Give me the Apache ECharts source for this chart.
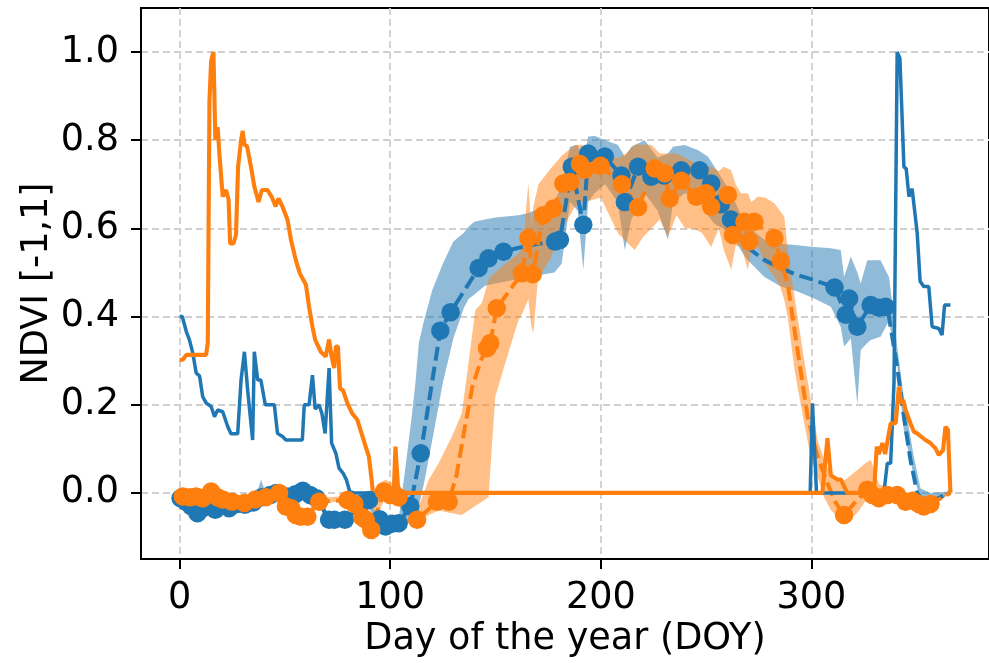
<!DOCTYPE html>
<html>
<head>
<meta charset="utf-8">
<script src="https://cdn.jsdelivr.net/npm/echarts@6/dist/echarts.min.js"></script>
<style>
html,body{margin:0;padding:0;background:#fff;}
#chart{width:989px;height:663px;}
</style>
</head>
<body>
<div id="chart"></div>
<script>
// ---------- data (day of year, NDVI) ----------
const X_TICKS = [0, 100, 200, 300];
const Y_TICKS = [0, 0.2, 0.4, 0.6, 0.8, 1.0];

// raw NDVI, pixel 1 (blue)
const BLUE_RAW = [[0,0.40],[1.3,0.40],[3.2,0.366],[4.7,0.347],[6.3,0.317],[7.9,0.272],[9.5,0.265],[11,0.218],[12.6,0.204],[15,0.196],[16.6,0.173],[18.1,0.188],[20.5,0.184],[22.9,0.150],[24.4,0.134],[27.6,0.134],[29.2,0.256],[30.8,0.32],[32.4,0.23],[34.7,0.12],[35.5,0.32],[37.1,0.256],[38.6,0.256],[40.7,0.2],[45,0.2],[46.5,0.135],[48.9,0.128],[50.5,0.12],[58.3,0.12],[59.2,0.2],[61.5,0.2],[63.1,0.267],[64.4,0.19],[66.2,0.2],[67.6,0.18],[69.1,0.135],[71,0.283],[72.2,0.113],[74.2,0.09],[75.7,0.056],[77.6,0.045],[79.2,0.03],[80.8,0.003],[82.8,0],[299.4,0],[300.5,0.203],[302.4,0],[334.4,0],[336,0.067],[337.6,0.067],[339.2,0.25],[340.7,1.0],[342,0.986],[343.9,0.74],[345,0.735],[346.3,0.672],[347.8,0.69],[350.2,0.59],[351.6,0.48],[353.3,0.468],[355.7,0.468],[357.3,0.377],[360.5,0.373],[362,0.358],[363.2,0.426],[366,0.426]];

// raw NDVI, pixel 2 (orange)
const ORANGE_RAW = [[0,0.302],[1.5,0.302],[3.2,0.313],[12.6,0.313],[13.4,0.34],[14.2,0.89],[15,0.98],[16.1,1.0],[17,0.80],[18.1,0.83],[18.9,0.77],[20.5,0.672],[22.1,0.687],[23.3,0.665],[24,0.566],[25.6,0.566],[26.8,0.585],[27.8,0.74],[29.2,0.80],[30,0.821],[30.8,0.79],[32,0.787],[33.9,0.74],[35.5,0.695],[37.5,0.66],[39.1,0.687],[41.8,0.687],[43.9,0.67],[45.6,0.65],[47,0.668],[48.9,0.649],[51.3,0.619],[52.9,0.574],[55.2,0.528],[57.1,0.498],[60,0.472],[61.5,0.422],[63.1,0.377],[64.4,0.347],[67.1,0.32],[69.4,0.309],[71,0.348],[72.2,0.309],[73.4,0.283],[74.2,0.332],[75.2,0.332],[76.2,0.237],[77.6,0.233],[79.7,0.203],[82,0.18],[84.4,0.166],[87.1,0.124],[89.1,0.094],[89.9,0.082],[91.2,0.03],[91.8,0],[101.7,0],[102.5,0.105],[103.7,0.014],[105.5,0],[305.2,0],[307.6,0.124],[309.2,0.04],[312.4,0.03],[314,0.03],[317,0],[329.7,0],[331,0.105],[332,0.088],[333.7,0.113],[335,0.088],[337.6,0.158],[340,0.158],[341.5,0.241],[342.6,0.203],[343.6,0.21],[344.7,0.188],[347,0.158],[348.6,0.139],[350.2,0.135],[354.1,0.12],[356.5,0.113],[358.9,0.101],[360.5,0.086],[362.5,0.097],[363.6,0.15],[364.8,0.143],[366,0]];

// smoothed NDVI, pixel 1: [day, value, observed (1 = marker)]
const BLUE_SMOOTH = [[0.5,-0.012,1],[3,-0.02,1],[5.5,-0.03,1],[8.5,-0.046,1],[11,-0.035,1],[14,-0.03,1],[17,-0.038,1],[20,-0.028,1],[23.5,-0.035,1],[27,-0.025,1],[31,-0.027,1],[35,-0.022,1],[39,-0.01,1],[43,-0.005,1],[46,0.0,1],[51,-0.008,1],[55,-0.003,1],[58.5,0.005,1],[62,-0.005,1],[65,-0.012,1],[71,-0.061,1],[73.5,-0.061,1],[78.5,-0.061,1],[86,-0.025,1],[90,-0.016,1],[95,-0.06,1],[97.8,-0.076,1],[101,-0.07,1],[104,-0.069,1],[109.6,-0.03,1],[114.5,0.09,1],[123.8,0.368,1],[128.7,0.41,1],[142,0.51,1],[146.7,0.532,1],[153.8,0.547,1],[160,0.555,0],[170,0.565,0],[178.3,0.57,1],[180.6,0.574,1],[186.2,0.74,1],[191.7,0.608,1],[194,0.77,1],[201.9,0.763,1],[209.8,0.72,1],[211.4,0.66,1],[217.7,0.74,1],[224,0.717,1],[230,0.72,1],[238.2,0.732,1],[246.9,0.732,1],[252.4,0.702,1],[257,0.655,1],[261.8,0.62,1],[266.6,0.574,0],[271.3,0.551,0],[277.7,0.528,0],[285.5,0.51,0],[293.4,0.494,0],[301.3,0.483,0],[311,0.466,1],[316.3,0.404,1],[317.9,0.441,1],[321.8,0.377,1],[328.1,0.426,1],[332,0.42,1],[335.2,0.422,1],[336.8,0.40,0],[340.7,0.286,0],[343.9,0.173,0],[347,0.075,0],[350.2,0.0,0],[353.3,-0.02,0],[356.5,-0.02,0],[361,-0.01,0],[366,0.003,0]];

// smoothed NDVI, pixel 2
const ORANGE_SMOOTH = [[1.6,-0.008,1],[5,-0.01,1],[7.9,-0.008,1],[11,-0.012,1],[15,0.003,1],[18,-0.01,1],[20.5,-0.015,1],[25,-0.02,1],[30.8,-0.023,1],[36,-0.015,1],[41,-0.01,1],[47.3,0.0,1],[50.5,-0.031,1],[53,-0.035,1],[55.2,-0.05,1],[57.5,-0.054,1],[60.7,-0.054,1],[66.3,-0.02,1],[79.7,-0.016,1],[83,-0.025,1],[86.7,-0.055,1],[88.4,-0.061,1],[91,-0.084,1],[97,0.003,1],[100,-0.005,1],[104,-0.01,1],[112.8,-0.061,1],[122.2,-0.02,1],[127.8,-0.02,1],[131.5,0.04,0],[135.5,0.15,0],[139,0.24,0],[143,0.3,0],[146,0.328,1],[147.5,0.34,1],[150.6,0.419,1],[162.5,0.498,1],[165.6,0.578,1],[167.7,0.496,1],[172.7,0.63,1],[177.5,0.645,1],[182.2,0.702,1],[185.4,0.705,1],[190.1,0.746,1],[192.4,0.733,1],[199.9,0.742,1],[210,0.7,1],[217.7,0.648,1],[225.6,0.736,1],[230.4,0.725,1],[232.7,0.668,1],[238.2,0.708,1],[245.3,0.672,1],[250,0.68,1],[252.4,0.649,1],[260.3,0.676,1],[262.7,0.585,1],[268.2,0.615,1],[270.5,0.57,1],[272.9,0.615,1],[282.4,0.578,1],[285.5,0.526,1],[288.7,0.475,0],[293.4,0.324,0],[298.2,0.173,0],[302.9,0.082,0],[307.6,0.022,0],[311.6,-0.023,0],[315.5,-0.05,1],[321,-0.02,0],[326.5,0.007,1],[329,-0.005,1],[332,-0.012,1],[336,-0.005,1],[340.7,-0.005,1],[344.7,-0.02,1],[348,-0.018,1],[351,-0.025,1],[353.3,-0.031,1],[356.5,-0.025,1],[366,0.0,0]];

// uncertainty bands: [day, lower, upper]
const BLUE_BAND = [[0,-0.02,-0.005],[10,-0.05,-0.035],[20,-0.035,-0.02],[30,-0.032,-0.018],[36,-0.025,-0.01],[38.7,-0.02,0.03],[41,-0.015,0.0],[50,-0.012,0.0],[58,-0.002,0.01],[65,-0.02,-0.005],[72,-0.065,-0.055],[80,-0.065,-0.05],[88,-0.025,-0.01],[97,-0.08,-0.065],[104,-0.075,-0.06],[107.3,-0.072,0.06],[110.4,-0.065,0.18],[112,-0.05,0.25],[113.6,-0.03,0.34],[116,0.02,0.39],[120,0.12,0.46],[125,0.25,0.52],[130,0.35,0.57],[135,0.42,0.59],[137.2,0.44,0.604],[140,0.45,0.615],[145,0.47,0.62],[150,0.475,0.625],[160.9,0.485,0.63],[165.7,0.49,0.635],[178,0.5,0.66],[181.4,0.52,0.698],[185.4,0.66,0.785],[189,0.64,0.79],[191.7,0.506,0.75],[194,0.66,0.808],[197,0.68,0.81],[202,0.70,0.80],[208,0.66,0.79],[211.4,0.551,0.763],[214.5,0.62,0.785],[220.8,0.68,0.80],[227,0.64,0.76],[231.9,0.574,0.77],[234.3,0.66,0.785],[239.8,0.68,0.789],[246,0.67,0.778],[250.8,0.63,0.763],[254,0.61,0.74],[258,0.60,0.71],[261.9,0.589,0.68],[266.6,0.55,0.63],[269.8,0.528,0.604],[277.7,0.49,0.574],[285.5,0.468,0.565],[293.4,0.457,0.562],[301.3,0.441,0.558],[309.2,0.422,0.555],[313.9,0.377,0.551],[315.5,0.332,0.49],[318.7,0.35,0.536],[321.8,0.2,0.50],[323.4,0.324,0.475],[326.5,0.34,0.528],[328.1,0.347,0.528],[332.8,0.354,0.528],[336.8,0.39,0.49],[339.2,0.324,0.40],[340.7,0.29,0.332],[343.9,0.14,0.215],[348.6,0.037,0.082],[351.8,-0.016,0.01],[356.5,-0.031,0.0],[366,0.0,0.003]];

const ORANGE_BAND = [[0,-0.015,0.0],[10,-0.018,-0.002],[20,-0.022,-0.008],[30,-0.03,-0.015],[40,-0.018,-0.005],[47,-0.008,0.005],[55,-0.055,-0.04],[60,-0.058,-0.045],[66,-0.025,-0.012],[75,-0.02,-0.008],[80,-0.022,-0.01],[86,-0.06,-0.045],[91,-0.085,-0.07],[94,-0.05,0.02],[97.8,-0.01,0.03],[102,-0.02,0.02],[106,-0.04,0.0],[112.8,-0.065,-0.04],[118.3,-0.05,0.03],[123,-0.04,0.067],[129.3,-0.046,0.128],[134,-0.05,0.18],[137.2,-0.04,0.294],[140.4,-0.03,0.415],[143.5,-0.02,0.43],[146.7,-0.01,0.483],[147.5,0.05,0.49],[149.9,0.218,0.5],[154.6,0.294,0.52],[160.9,0.392,0.543],[163,0.41,0.56],[165.6,0.44,0.702],[167,0.38,0.6],[168,0.362,0.65],[170.4,0.5,0.7],[172,0.5,0.71],[176,0.53,0.735],[179.8,0.58,0.755],[181.4,0.596,0.765],[187.7,0.649,0.789],[190.8,0.66,0.79],[195.6,0.664,0.78],[200,0.67,0.775],[204,0.63,0.765],[208.2,0.589,0.759],[212,0.57,0.77],[216.1,0.551,0.79],[220,0.58,0.79],[224,0.6,0.79],[228,0.62,0.77],[231.9,0.581,0.77],[236,0.63,0.77],[240,0.6,0.76],[244,0.6,0.75],[248,0.59,0.74],[252.4,0.558,0.74],[256,0.6,0.73],[258.5,0.55,0.74],[261.9,0.506,0.732],[264,0.56,0.7],[266.6,0.56,0.68],[269.8,0.506,0.68],[271.5,0.55,0.66],[274.5,0.56,0.672],[278,0.52,0.67],[282.4,0.49,0.657],[285,0.47,0.64],[287.1,0.438,0.627],[288.7,0.4,0.551],[291.8,0.286,0.45],[293.4,0.24,0.4],[296.6,0.158,0.3],[299.7,0.08,0.211],[302.9,0.037,0.12],[306,-0.01,0.075],[309.2,-0.039,0.04],[313.9,-0.061,0.022],[318.7,-0.058,0.04],[321.8,-0.045,0.052],[325,-0.023,0.065],[328.1,-0.01,0.075],[332,-0.02,0.02],[340,-0.02,0.005],[350,-0.035,-0.01],[356.5,-0.035,-0.015],[366,0,0.003]];

// ---------- styles ----------
const BLUE = '#1f77b4', ORANGE = '#ff7f0e';
const FONT = 'DejaVu Sans';
const FS = 36.6;

function bandSeries(band, color) {
  return {
    type: 'custom',
    coordinateSystem: 'cartesian2d',
    data: [[band[0][0], band[0][1]]],
    clip: true,
    silent: true,
    renderItem: function (params, api) {
      const pts = [];
      for (let i = 0; i < band.length; i++) pts.push(api.coord([band[i][0], band[i][2]]));
      for (let i = band.length - 1; i >= 0; i--) pts.push(api.coord([band[i][0], band[i][1]]));
      return { type: 'polygon', shape: { points: pts }, style: { fill: color, opacity: 0.5 } };
    }
  };
}
function smoothSeries(arr, color) {
  return {
    type: 'line',
    data: arr.map(r => ({ value: [r[0], r[1]], symbol: r[2] ? 'circle' : 'none' })),
    symbolSize: 18.5,
    showAllSymbol: true,
    itemStyle: { color: color },
    lineStyle: { color: color, width: 4, type: [14, 6] },
    clip: true,
    silent: true
  };
}
function rawSeries(arr, color, w) {
  return {
    type: 'line',
    data: arr,
    showSymbol: false,
    symbol: 'none',
    lineStyle: { color: color, width: w },
    clip: true,
    silent: true
  };
}

const gridLine = { show: true, lineStyle: { color: '#cfcfcf', width: 1.8, type: [7, 4] } };

const chart = echarts.init(document.getElementById('chart'), null, { renderer: 'canvas' });
chart.setOption({
  animation: false,
  backgroundColor: '#fff',
  textStyle: { fontFamily: FONT },
  grid: { left: 141, right: -3, top: 8, bottom: 104, show: true, borderColor: '#000', borderWidth: 2, backgroundColor: 'transparent' },
  xAxis: {
    type: 'value', min: -18.3, max: 384.3,
    name: 'Day of the year (DOY)', nameLocation: 'middle', nameGap: 62, nameMoveOverlap: false,
    nameTextStyle: { fontFamily: FONT, fontSize: FS, color: '#000' },
    axisLine: { show: true, onZero: false, lineStyle: { color: '#000', width: 2 } },
    axisTick: { show: true, customValues: X_TICKS, length: 10, lineStyle: { color: '#000', width: 2 } },
    axisLabel: { customValues: X_TICKS, margin: 21, fontFamily: FONT, fontSize: FS, color: '#000' },
    splitLine: gridLine
  },
  yAxis: {
    type: 'value', min: -0.15, max: 1.1,
    name: 'NDVI [-1,1]', nameLocation: 'middle', nameGap: 85, nameMoveOverlap: false,
    nameTextStyle: { fontFamily: FONT, fontSize: FS, color: '#000' },
    axisLine: { show: true, onZero: false, lineStyle: { color: '#000', width: 2 } },
    axisTick: { show: true, customValues: Y_TICKS, length: 10, lineStyle: { color: '#000', width: 2 } },
    axisLabel: { customValues: Y_TICKS, margin: 22, fontFamily: FONT, fontSize: FS, color: '#000',
                 formatter: v => v.toFixed(1) },
    splitLine: gridLine
  },
  series: [
    bandSeries(BLUE_BAND, BLUE),
    smoothSeries(BLUE_SMOOTH, BLUE),
    bandSeries(ORANGE_BAND, ORANGE),
    smoothSeries(ORANGE_SMOOTH, ORANGE),
    rawSeries(BLUE_RAW, BLUE, 3.5),
    rawSeries(ORANGE_RAW, ORANGE, 4.1)
  ]
});
</script>
</body>
</html>
